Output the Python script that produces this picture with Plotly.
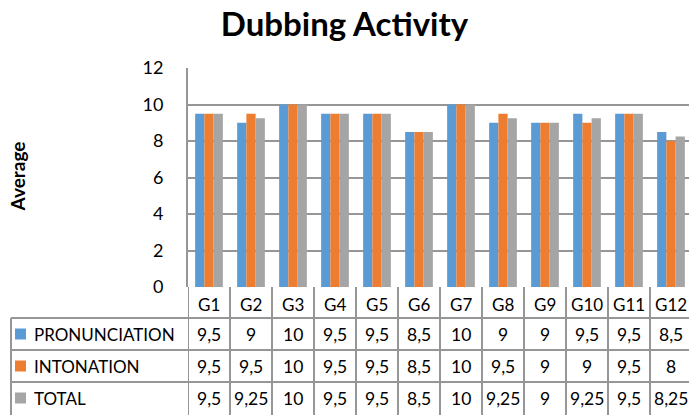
import plotly.graph_objects as go

categories = ["G1", "G2", "G3", "G4", "G5", "G6", "G7", "G8", "G9", "G10", "G11", "G12"]
pronunciation = [9.5, 9, 10, 9.5, 9.5, 8.5, 10, 9, 9, 9.5, 9.5, 8.5]
intonation = [9.5, 9.5, 10, 9.5, 9.5, 8.5, 10, 9.5, 9, 9, 9.5, 8]
total = [9.5, 9.25, 10, 9.5, 9.5, 8.5, 10, 9.25, 9, 9.25, 9.5, 8.25]
series_names = ["PRONUNCIATION", "INTONATION", "TOTAL"]
series_colors = ["#5B9BD5", "#ED7D31", "#A5A5A5"]
y_ticks = [0, 2, 4, 6, 8, 10, 12]

W, H = 689, 415
L, T, B = 188, 68, 287  # plot area pixel bounds
PW = W - L
PH = B - T
FONT = "Lato"
LINE = "#969696"
TXT = "#000000"


def px(x):
    return (x - L) / PW


def py(y):
    return (B - y) / PH


def fmt(v):
    s = ("%g" % v)
    return s.replace(".", ",")


fig = go.Figure()
for name, vals, col in zip(series_names, [pronunciation, intonation, total], series_colors):
    fig.add_trace(go.Bar(x=list(range(len(categories))), y=vals, name=name,
                         marker=dict(color=col, line=dict(width=0)), showlegend=False))

shapes = []
annotations = []

# table rows
row_lines = [318, 350, 382]
row_centers = [334, 366, 398]
for yl in row_lines:
    shapes.append(dict(type="line", xref="paper", yref="paper", x0=px(11), x1=1.0,
                       y0=py(yl), y1=py(yl), line=dict(color=LINE, width=2)))
# legend column left border
shapes.append(dict(type="line", xref="paper", yref="paper", x0=px(11), x1=px(11),
                   y0=py(318), y1=py(416), line=dict(color=LINE, width=2)))
# column separators
for k in range(len(categories) + 1):
    shapes.append(dict(type="line", xref="x", yref="paper", x0=k - 0.5, x1=k - 0.5,
                       y0=py(287), y1=py(416), line=dict(color=LINE, width=2)))

# header labels
for i, c in enumerate(categories):
    annotations.append(dict(x=i, y=py(304), xref="x", yref="paper", text=c, showarrow=False,
                            font=dict(family=FONT, size=17, color=TXT), xanchor="center", yanchor="middle"))

# row values
for r, vals in enumerate([pronunciation, intonation, total]):
    for i, v in enumerate(vals):
        annotations.append(dict(x=i, y=py(row_centers[r]), xref="x", yref="paper", text=fmt(v),
                                showarrow=False, font=dict(family=FONT, size=17.5, color=TXT),
                                xanchor="center", yanchor="middle"))
    # legend key
    shapes.append(dict(type="rect", xref="paper", yref="paper", x0=px(15), x1=px(26),
                       y0=py(row_centers[r] - 5.5), y1=py(row_centers[r] + 5.5),
                       fillcolor=series_colors[r], line=dict(width=0)))
    annotations.append(dict(x=px(32), y=py(row_centers[r]), xref="paper", yref="paper",
                            text=series_names[r], showarrow=False,
                            font=dict(family=FONT, size=17, color=TXT),
                            xanchor="left", yanchor="middle"))

# y axis title
annotations.append(dict(x=px(16.5), y=py(177), xref="paper", yref="paper", text="<b>Average</b>",
                        textangle=-90, showarrow=False, font=dict(family=FONT, size=19, color=TXT),
                        xanchor="center", yanchor="middle"))

fig.update_layout(
    width=W, height=H,
    margin=dict(l=L, r=0, t=T, b=H - B, pad=0),
    paper_bgcolor="white", plot_bgcolor="white",
    barmode="group", bargap=0.34, bargroupgap=0,
    title=dict(text="<b>Dubbing Activity</b>", x=0.5, xanchor="center", y=1 - 24 / H, yanchor="middle",
               font=dict(family=FONT, size=33, color="#000")),
    xaxis=dict(range=[-0.5, -0.5 + PW / 42.0], showticklabels=False, showgrid=False, zeroline=False,
               showline=False, ticks=""),
    yaxis=dict(range=[0, 12], tickvals=y_ticks, showgrid=True, gridcolor=LINE, gridwidth=1.5,
               zeroline=False, showline=True, linecolor=LINE, linewidth=2, ticks="",
               ticklabelstandoff=19, tickfont=dict(family=FONT, size=18, color=TXT)),
    shapes=shapes, annotations=annotations,
)

fig.write_html("out.html")
